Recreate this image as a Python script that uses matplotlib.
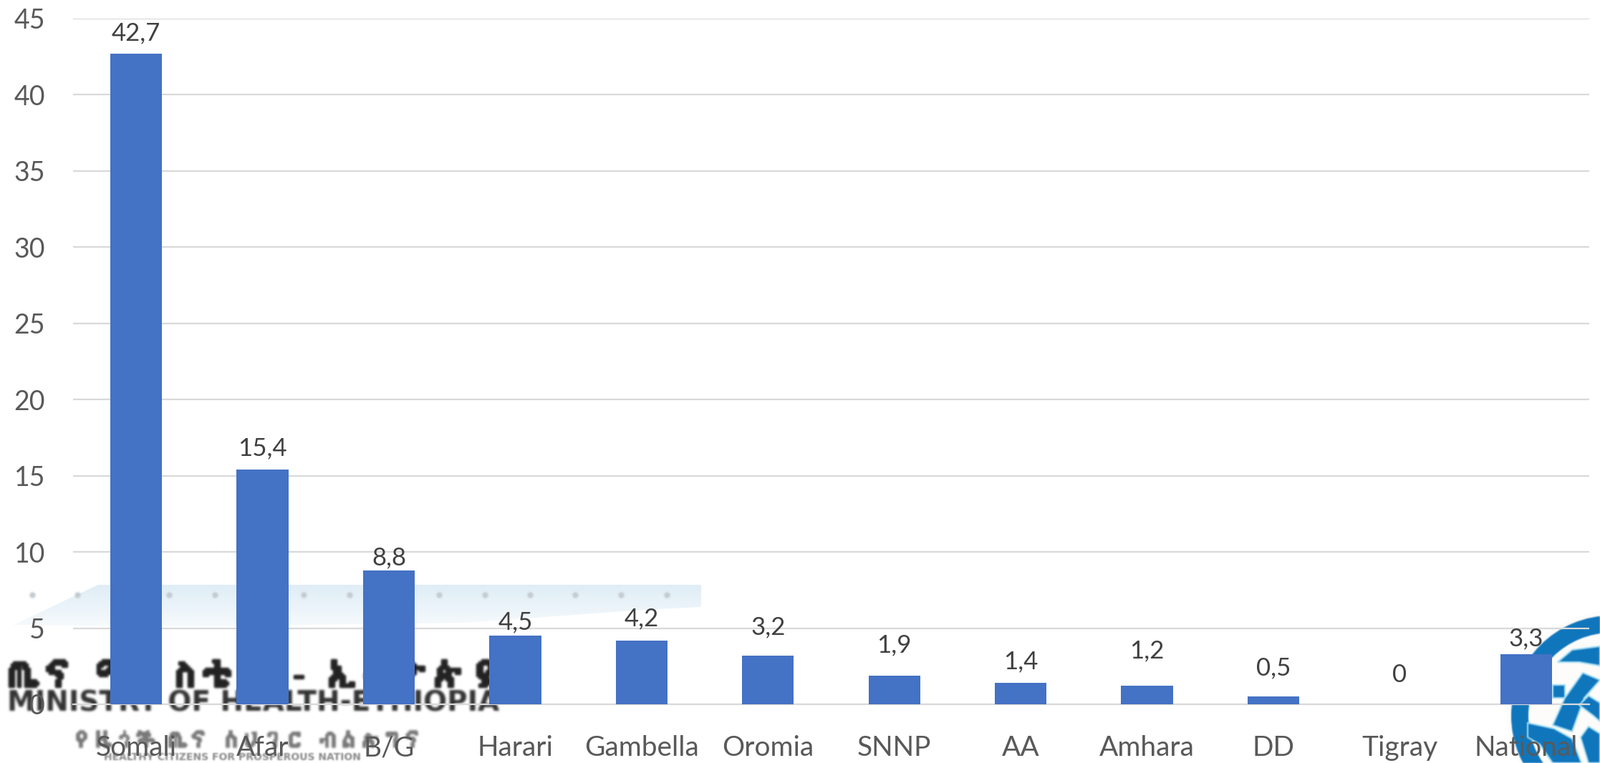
import matplotlib
matplotlib.use("Agg")
import matplotlib.pyplot as plt
import numpy as np
from matplotlib import font_manager as fm
from matplotlib import ft2font
from matplotlib.patches import Polygon, Wedge, Circle
import matplotlib.patheffects as pe

regions = ["Somali", "Afar", "B/G", "Harari", "Gambella", "Oromia", "SNNP",
           "AA", "Amhara", "DD", "Tigray", "National"]
values = [42.7, 15.4, 8.8, 4.5, 4.2, 3.2, 1.9, 1.4, 1.2, 0.5, 0, 3.3]
value_labels = ["42,7", "15,4", "8,8", "4,5", "4,2", "3,2", "1,9", "1,4", "1,2", "0,5", "0", "3,3"]
yticks = [0, 5, 10, 15, 20, 25, 30, 35, 40, 45]

# Hand-placed distance of each value label above its bar, in points
label_offsets = [9, 10, 1, 2, 10, 17, 19, 10, 24, 17, 18, 4]

W, H = 2234, 1066
FONT = "Lato"
BLUE = "#0f75bd"


def soften(sigma):
    """Return an agg filter applying a gaussian blur to an RGBA layer."""
    radius = int(3 * sigma)
    kernel = np.exp(-0.5 * (np.arange(-radius, radius + 1) / sigma) ** 2)
    kernel /= kernel.sum()

    def apply(image, dpi):
        img = np.pad(image, ((radius, radius), (radius, radius), (0, 0)))
        img[..., :3] *= img[..., 3:4]
        for axis in (0, 1):
            img = sum(w * np.roll(img, k - radius, axis=axis) for k, w in enumerate(kernel))
        alpha = np.clip(img[..., 3:4], 1e-4, 1)
        img[..., :3] = np.clip(img[..., :3] / alpha, 0, 1)
        return img, -radius, -radius

    return apply


def ethiopic_family():
    """Look for an installed family covering the Ethiopic block."""
    for path in fm.findSystemFonts():
        try:
            if 0x1324 in ft2font.FT2Font(path).get_charmap():
                return fm.FontProperties(fname=path).get_name()
        except (OSError, RuntimeError):
            continue
    return None


fig = plt.figure(figsize=(W / 100, H / 100), dpi=100)

# Full-figure pixel overlay for the letterhead artwork behind the chart
bg = fig.add_axes([0, 0, 1, 1], zorder=0)
bg.set_xlim(0, W)
bg.set_ylim(H, 0)
bg.axis("off")

# Pale banner with a row of dots
band = Polygon([(19, 873), (137, 817), (979, 817), (979, 848), (900, 852),
                (760, 862), (650, 870), (300, 875)],
               closed=True, fc="none", ec="none")
bg.add_patch(band)
shade = np.linspace(0, 1, 64)[:, None, None] * (np.array([0.965, 0.98, 0.99]) - np.array([0.875, 0.93, 0.965])) \
    + np.array([0.875, 0.93, 0.965])
im = bg.imshow(shade, extent=(19, 979, 875, 817), aspect="auto", zorder=1)
im.set_clip_path(band)
bg.set_xlim(0, W)
bg.set_ylim(H, 0)
for x in [45, 108, 236, 300, 424, 488, 613, 677, 740, 803, 867, 931]:
    dot, = bg.plot(x, 831, "o", ms=6, color="#c3ccd0", mec="none", zorder=2)
    dot.set_agg_filter(soften(1.2))

# Letterhead wording; the Ethiopic lines need a font that covers the script
amharic = ethiopic_family()
if amharic:
    t = bg.text(10, 945, "ጤና ሚኒስቴር - ኢትዮጵያ", family=amharic, fontsize=35.5, weight="bold",
                color="#222222", va="center", ha="left",
                path_effects=[pe.withStroke(linewidth=2.5, foreground="#222222")])
    t.set_agg_filter(soften(1.5))
    t = bg.text(100, 1035, "የዜጎች ጤና ለሀገር ብልጽግና", family=amharic, fontsize=21.5,
                color="#777777", va="center", ha="left",
                path_effects=[pe.withStroke(linewidth=1.2, foreground="#777777")])
    t.set_agg_filter(soften(1.5))
t = bg.text(10, 982, "MINISTRY OF HEALTH-ETHIOPIA", family="DejaVu Sans", fontsize=28,
            weight="bold", color="#333333", va="center", ha="left")
t.set_agg_filter(soften(1.6))
t = bg.text(145, 1058, "HEALTHY CITIZENS FOR PROSPEROUS NATION", family="DejaVu Sans", fontsize=10,
            weight="bold", color="#8a8a8a", va="center", ha="left")
t.set_agg_filter(soften(1.0))

# Woven emblem in the lower right corner
cx, cy = 2250, 1000
disc = Circle((cx, cy), 146, fc="#fdfcfa", ec="none", zorder=1)
bg.add_patch(disc)
ring = Wedge((cx, cy), 140, 0, 360, width=24, fc=BLUE, ec="none", zorder=2)
bg.add_patch(ring)
weave = [
    [(2175, 925), (2195, 908), (2234, 903), (2234, 930), (2205, 925)],
    [(2168, 957), (2185, 957), (2185, 975), (2168, 975)],
    [(2168, 1013), (2185, 975), (2210, 940), (2222, 945), (2234, 950), (2212, 975), (2195, 1022)],
    [(2205, 985), (2218, 972), (2234, 982), (2234, 1008), (2225, 1000)],
    [(2133, 1010), (2170, 1018), (2195, 1032), (2208, 1066), (2168, 1066), (2150, 1040), (2133, 1030)],
    [(2207, 1030), (2218, 1015), (2234, 1025), (2234, 1066), (2218, 1066)],
]
for shape in weave:
    band_part = Polygon(shape, closed=True, fc=BLUE, ec="#9fdcf2", lw=1.5, zorder=2)
    bg.add_patch(band_part)
    band_part.set_agg_filter(soften(0.8))
ring.set_agg_filter(soften(0.8))

# Bar chart
ax = fig.add_axes([102 / W, 1 - 984 / H, (2219 - 102) / W, (984 - 26) / H], zorder=1)
ax.patch.set_alpha(0)

x = list(range(len(regions)))
ax.bar(x, values, width=0.41, color="#4472c4", zorder=3)
ax.set_xlim(-0.5, len(regions) - 0.5)
ax.set_ylim(0, 45)
ax.set_yticks(yticks)
ax.set_xticks(x)
ax.set_xticklabels(regions, fontname=FONT, fontsize=28, color="#595959")
ax.set_yticklabels([str(t) for t in yticks], fontname=FONT, fontsize=27, color="#595959")
ax.tick_params(length=0)
ax.tick_params(axis="x", pad=31)
ax.tick_params(axis="y", pad=28)
ax.grid(axis="y", color="#d9d9d9", lw=1.6, zorder=1)
ax.set_axisbelow(True)
for s in ["top", "right", "left"]:
    ax.spines[s].set_visible(False)
ax.spines["bottom"].set_color("#d9d9d9")
ax.spines["bottom"].set_linewidth(1.6)

for xi, v, lab, off in zip(x, values, value_labels, label_offsets):
    ax.annotate(lab, (xi, v), xytext=(0, off), textcoords="offset points", ha="center",
                va="bottom", fontname=FONT, fontsize=25, color="#404040", zorder=4)

fig.savefig("out.png", dpi=100, facecolor="white")
